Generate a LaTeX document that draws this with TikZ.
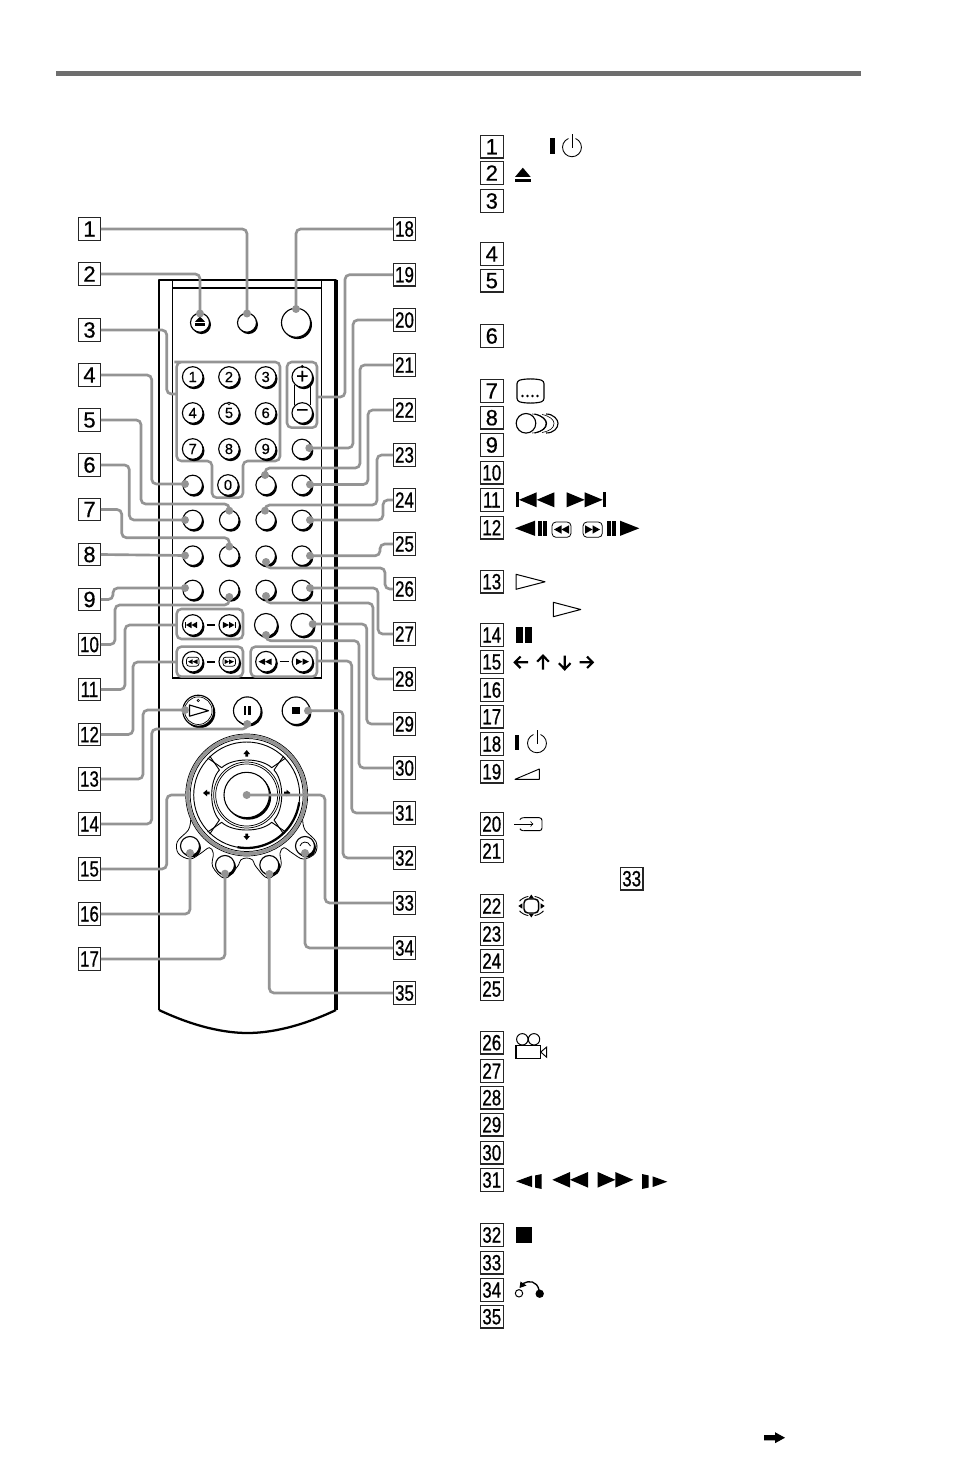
\documentclass[tikz,border=0pt]{standalone}
\usepackage{fontspec}
\usepackage{graphicx}
\setmainfont{Liberation Sans}
\newfontfamily\boxfont[FakeBold=0.6]{Liberation Sans}
\newfontfamily\twofont[FakeBold=0.9]{Liberation Sans}
\newfontfamily\keyfont[FakeBold=0.5]{Liberation Sans}
\definecolor{gr}{HTML}{949494}
\newcommand\one[1]{{\boxfont\fontsize{16.5}{16.5}\selectfont #1}}
\newcommand\two[1]{\scalebox{.77}[1]{\twofont\fontsize{16.5}{16.5}\selectfont #1}}
\newcommand\btn[5]{%
  \fill[black,shift={(1.5,1.9)}] (#2,#3) circle (#4);
  \draw[line width=.85pt,fill=white] (#2,#3) circle (#4);
  \node[keytext] (#1) at (#2,#3) {#5};}
\newcommand\trir[4]{\fill (#1,#3-#4)--(#2,#3)--(#1,#3+#4)--cycle;}
\newcommand\pow[2]{\draw[line width=.65pt] ({#1-3.56},{#2-8.8}) arc[start angle=112,end angle=428,radius=7.1pt];
  \draw[line width=.65pt] (#1,#2-13) -- (#1,#2+.5);}
\tikzset{
  labbox/.style={draw=black!85,line width=.95pt,fill=white,minimum size=17pt,inner sep=0pt,outer sep=0pt},
  conn/.style={draw=gr,line width=2pt,rounded corners=3.5pt},
  grp/.style={draw=gr,line width=1.9pt,rounded corners=3.5pt},
  cdot/.style={circle,fill=gr,minimum size=6pt,inner sep=0pt,outer sep=0pt},
  keytext/.style={inner sep=0pt,font=\keyfont\fontsize{11}{11}\selectfont},
}
\begin{document}
\begin{tikzpicture}[x=.75pt,y=-.75pt]
\useasboundingbox (0,0) rectangle (954,1483);
\fill[white] (0,0) rectangle (954,1483);
% rule
\fill[black!57] (56,71) rectangle (861,76);
% remote body
\draw[line width=1.7pt,line join=round] (159,1010) -- (159,280) -- (336,280) -- (336,1010);
\draw[line width=2.6pt] (336,280) -- (336,1010);
\draw[line width=1.7pt] (159,1010) .. controls (195,1027) and (225,1033) .. (247.5,1033) .. controls (270,1033) and (300,1027) .. (336,1010);
\draw[line width=.85pt] (172.7,280) -- (172.7,678) -- (321.7,678) -- (321.7,280);
\draw[line width=.85pt] (172.7,288) -- (321.7,288);
% groups
\draw[grp] (179,362) -- (280,362) -- (280,461) -- (243,461) -- (243,497.7) -- (212,497.7) -- (212,461) -- (176.7,461) -- (176.7,362) -- cycle;
\draw[grp] (287,362) rectangle (317,427.7);
\node[inner sep=0pt] (gNum) at (176.7,394) {};
\node[inner sep=0pt] (gVol) at (317,397) {};
\draw[grp] (176.7,609) rectangle (243,639);
\draw[grp] (176.7,646.7) rectangle (243,676.7);
\draw[grp] (250.7,646.7) rectangle (317,676.7);
\node[inner sep=0pt] (gSkip) at (176.7,625) {};
\node[inner sep=0pt] (gScan) at (176.7,662) {};
\node[inner sep=0pt] (gSrch) at (317,661) {};
% top buttons
\btn{bEject}{200}{322.7}{9.5}{}
\fill (200,316.5)--(205.2,322)--(194.8,322)--cycle; \fill (194.8,323.5) rectangle (205.2,326);
\btn{bOne}{247}{322.7}{9.5}{}
\btn{bBig}{296}{322.7}{14.5}{}
% number pad
\btn{n1}{192.7}{377}{10.3}{1}
\btn{n2}{229}{377}{10.3}{2}
\btn{n3}{265.7}{377}{10.3}{3}
\btn{n4}{192.7}{413}{10.3}{4}
\btn{n5}{229}{413}{10.3}{5}
\btn{n6}{265.7}{413}{10.3}{6}
\btn{n7}{192.7}{449}{10.3}{7}
\btn{n8}{229}{449}{10.3}{8}
\btn{n9}{265.7}{449}{10.3}{9}
\btn{n0}{228}{485}{10.3}{0}
\draw[line width=.4pt] (229,403.5) circle (1.4);
\draw[line width=.7pt] (294,385) -- (294,405) (310.7,385) -- (310.7,405);
\btn{vPlus}{302.3}{377}{10.3}{\fontsize{16}{16}\selectfont +}
\btn{vMinus}{302.3}{413}{10.3}{\fontsize{16}{16}\selectfont −}
\draw[line width=.4pt] (302.3,366.5) circle (1.3);
\btn{b21}{302}{449}{9.8}{}
\btn{b4}{192.7}{485}{9.8}{}
\btn{b22}{265.7}{485}{9.8}{}
\btn{b23}{302}{485}{9.8}{}
\foreach \yy/\nm in {520/a,555.7/b,590/c}{
  \btn{r\nm1}{192.7}{\yy}{9.8}{}
  \btn{r\nm2}{229.3}{\yy}{9.8}{}
  \btn{r\nm3}{265.7}{\yy}{9.8}{}
  \btn{r\nm4}{302}{\yy}{9.8}{}
}
% skip row
\btn{sPrev}{192.7}{625}{10.3}{}
\btn{sNext}{229.3}{625}{10.3}{}
\fill (184.7,621.8) rectangle (186,628.2); \trir{191.5}{186}{625}{3.2} \trir{197}{191.5}{625}{3.2}
\trir{222.8}{229}{625}{3.2} \trir{229}{234.5}{625}{3.2} \fill (234.5,621.8) rectangle (235.8,628.2);
\draw[line width=.85pt] (206.7,625) -- (215,625);
\btn{b28}{266}{625}{11.5}{}
\btn{b29}{302.5}{625}{11.5}{}
% scan row
\btn{cPrev}{192.7}{661.7}{10.3}{}
\btn{cNext}{229.3}{661.7}{10.3}{}
\draw[line width=.55pt,rounded corners=2pt] (186.5,657.2) rectangle (199,666.2);
\draw[line width=.55pt,rounded corners=2pt] (223,657.2) rectangle (235.5,666.2);
\trir{192.5}{188}{661.7}{2.4} \trir{197.5}{192.5}{661.7}{2.4}
\trir{224.5}{229}{661.7}{2.4} \trir{229}{234}{661.7}{2.4}
\draw[line width=1.2pt] (206.7,661.7) -- (215,661.7);
\btn{fPrev}{266}{661.7}{10.3}{}
\btn{fNext}{302.5}{661.7}{10.3}{}
\trir{265}{258.5}{661.7}{3.2} \trir{271.5}{265}{661.7}{3.2}
\trir{296}{302.5}{661.7}{3.2} \trir{302.5}{309}{661.7}{3.2}
\draw[line width=.7pt] (279.7,661.7) -- (288.5,661.7);
% transport
\btn{bPlay}{198.3}{710.7}{15.5}{}
\draw[line width=.5pt] (198.3,710.7) circle (13.8);
\draw[line width=.5pt] (198.3,700.5) circle (1.2);
\draw[line width=.85pt,line join=round] (189.5,705) -- (208.5,710.7) -- (189.5,716.2) -- cycle;
\btn{bPause}{247.3}{710.7}{13.8}{}
\fill (243.6,706) rectangle (246.3,715); \fill (248.3,706) rectangle (251,715);
\btn{bStop}{296}{710.7}{13.8}{}
\fill (292.3,707) rectangle (299.7,714.4);
% joystick
\draw[draw=gr,line width=2.4pt,fill=white] (246.7,795) circle (58.8);
\draw[line width=.5pt] (246.7,795) circle (61);
\draw[line width=.55pt] (246.7,795) circle (56.5);
\foreach \a in {0,90,180,270}{
  \begin{scope}[shift={(246.7,795)},rotate=\a]
  \draw[line width=.7pt,line join=round] (-39,-37) -- (-25,-27.3) .. controls (-14,-37.6) and (14,-37.6) .. (25,-27.3) -- (39,-37);
  \end{scope}}
\draw[line width=.7pt] (246.7,795) circle (53);
\draw[line width=1.7pt] ({246.7+53*cos(8)},{795+53*sin(8)}) arc[start angle=-8,end angle=-100,radius=39.75pt];
\draw[line width=.55pt] (246.7,795) circle (33);
\draw[line width=.55pt] (246.7,795) circle (31);
\fill (248.2,796.7) circle (23);
\draw[line width=.8pt,fill=white] (246.7,795) circle (22.7);
\node[inner sep=0pt] (bEnter) at (246.7,795) {};
\fill (246.7,750)--(250,754)--(248,754)--(248,756.5)--(245.4,756.5)--(245.4,754)--(243.4,754)--cycle;
\fill (246.7,840)--(250,836)--(248,836)--(248,833.5)--(245.4,833.5)--(245.4,836)--(243.4,836)--cycle;
\fill (203,793)--(207,789.7)--(207,791.7)--(209.5,791.7)--(209.5,794.3)--(207,794.3)--(207,796.3)--cycle;
\fill (290.5,793)--(286.5,789.7)--(286.5,791.7)--(284,791.7)--(284,794.3)--(286.5,794.3)--(286.5,796.3)--cycle;
% contour around lower buttons
\begin{scope}[shift={(170,725)},x=.25pt,y=-.25pt]
\draw[line width=.6pt] plot[smooth,tension=.6] coordinates {(62,285)(55,315)(22,350)(25,385)(60,402)(92,385)(118,368)(130,385)(128,425)(165,460)(202,425)(212,405)(230,399)(248,405)(258,425)(295,460)(332,425)(330,385)(342,368)(368,385)(400,402)(435,385)(438,350)(405,315)(398,285)};
\end{scope}
\btn{b16}{190}{846}{9.5}{}
\btn{b17}{225}{865}{9.5}{}
\btn{b35}{269.3}{865}{9.5}{}
\btn{b34}{305}{846}{9.5}{}
\draw[line width=.6pt] (300,846) .. controls (301,841.5) and (308,840) .. (310.5,846);
% left and right label boxes
\foreach \n/\y in {1/229,2/274,3/330,4/375,5/420,6/465,7/509.5,8/554.5,9/599.5,10/644.5,11/689.5,12/734.5,13/779,14/824,15/869,16/914,17/959}{
  \node[labbox] (L\n) at (89.5,\y) {\ifnum\n<10 \one{\n}\else\two{\n}\fi};}
\foreach \n/\y in {18/229,19/274.7,20/320,21/365,22/410,23/455,24/500,25/544,26/589,27/634,28/679,29/724,30/768,31/813,32/858,33/903,34/948,35/993}{
  \node[labbox] (L\n) at (404.5,\y) {\two{\n}};}
% dots
\foreach \nm/\x/\y in {d1/247/313.5,d2/200/313.5,d4/185/484,d5/229.3/510.7,d6/185/520,d7/229.3/546.5,d8/185/555.5,d9/185/588,d10/229.3/597,d13/185/710,d14/247.3/724,d16/190/853,d17/225/873.7,d18/296/309,d20/309.3/448,d21/265/475,d22/310/484.5,d23/265/510.7,d24/310/520,d25/310/555.7,d26/266/562,d27/310/588,d28/266/596,d29/312.7/624,d30/266/635,d32/308/710.7,d33/246.7/795,d34/305/853,d35/269.3/874}{
  \node[cdot] (\nm) at (\x,\y) {};}
% connectors
\draw[conn] (L1.east) -| (d1.center);
\draw[conn] (L2.east) -| (d2.center);
\draw[conn] (L3.east) -| (166.7,394) -- (gNum.center);
\draw[conn] (L4.east) -| (151.7,484) -- (d4.center);
\draw[conn] (L5.east) -| (141,504) -| (d5.center);
\draw[conn] (L6.east) -| (129.3,520) -- (d6.center);
\draw[conn] (L7.east) -| (121.7,537.7) -| (d7.center);
\draw[conn] (L8.east) -- (d8.center);
\draw[conn] (L9.east) -| (113,588) -- (d9.center);
\draw[conn] (L10.east) -| (115,605) -| (d10.center);
\draw[conn] (L11.east) -| (125,625) -- (gSkip.center);
\draw[conn] (L12.east) -| (133,662) -- (gScan.center);
\draw[conn] (L13.east) -| (143,710) -- (d13.center);
\draw[conn] (L14.east) -| (151.7,729) -| (d14.center);
\draw[conn] (L15.east) -| (166.7,795) -- (186,795);
\draw[conn] (L16.east) -| (d16.center);
\draw[conn] (L17.east) -| (d17.center);
\draw[conn] (L18.west) -| (d18.center);
\draw[conn] (L19.west) -| (345,397) -- (gVol.center);
\draw[conn] (L20.west) -| (353,448) -- (d20.center);
\draw[conn] (L21.west) -| (360,468) -| (d21.center);
\draw[conn] (L22.west) -| (368,484.5) -- (d22.center);
\draw[conn] (L23.west) -| (377,505) -| (d23.center);
\draw[conn] (L24.west) -| (383,520) -- (d24.center);
\draw[conn] (L25.west) -| (380,555.7) -- (d25.center);
\draw[conn] (L26.west) -| (385,568) -| (d26.center);
\draw[conn] (L27.west) -| (378,588) -- (d27.center);
\draw[conn] (L28.west) -| (373,603) -| (d28.center);
\draw[conn] (L29.west) -| (366.7,624) -- (d29.center);
\draw[conn] (L30.west) -| (359,640.7) -| (d30.center);
\draw[conn] (L31.west) -| (351.7,661) -- (gSrch.center);
\draw[conn] (L32.west) -| (343,710.7) -- (d32.center);
\draw[conn] (L33.west) -| (325,795) -- (d33.center);
\draw[conn] (L34.west) -| (d34.center);
\draw[conn] (L35.west) -| (d35.center);
% list boxes
\foreach \n/\y in {1/146.7,2/173,3/201,4/254,5/280.7,6/336,7/391,8/417.7,9/445,10/472.7,11/500,12/527.7,13/581.7,14/635,15/662,16/690,17/716.7,18/744,19/771.7,20/824,21/851,22/906,23/934,24/961,25/989,26/1042.7,27/1071,28/1097.7,29/1124.7,30/1152.7,31/1180,32/1235,33/1262.7,34/1290,35/1316.7}{
  \node[labbox] (K\n) at (491.8,\y) {\ifnum\n<10 \one{\n}\else\two{\n}\fi};}
\node[labbox] (Kref) at (631.7,878.7) {\two{33}};
% list icons
\fill (550,138.5) rectangle (555,154.5); \pow{572}{147.3}
\fill (522.8,167.7)--(530.7,177)--(515,177)--cycle; \fill (515,179) rectangle (530.7,181.7);
% 7 subtitle
\draw[line width=.85pt,rounded corners=2pt] (517,381) .. controls (525,378.5) and (536,378.5) .. (544,381) -- (544,401) .. controls (536,403.5) and (525,403.5) .. (517,401) -- cycle;
\foreach \x in {522.5,527.5,532.5,537.5} \fill (\x,396) circle (1.3);
% 8 audio
\draw[line width=.85pt] (526,423.3) circle (9.8);
\draw[line width=.45pt] (532,414) .. controls (541,414) and (546,420) .. (546,423.3) .. controls (546,428) and (541,433) .. (532,433);
\draw[line width=.85pt] (534.5,414) .. controls (543,416) and (546.5,420) .. (546.5,423.3) .. controls (546.5,428) and (543,431) .. (534.5,433);
\draw[line width=.45pt] (542,414.5) .. controls (550,416) and (554,420) .. (554,423.3) .. controls (554,428) and (550,431) .. (542,432.5);
\draw[line width=.85pt] (546,414) .. controls (554,414) and (558,420) .. (558,423.3) .. controls (558,428) and (554,433) .. (546,433);
% 11
\fill (515.7,492.3) rectangle (519,507.3); \trir{536.7}{519}{499.8}{7.5} \trir{554.3}{536.7}{499.8}{7.5}
\trir{566.7}{584.7}{499.8}{7.5} \trir{584.7}{602.7}{499.8}{7.5} \fill (602.7,492.3) rectangle (606,507.3);
% 12
\trir{535}{515}{528.3}{7.6} \fill (537.7,520.7) rectangle (541.7,536); \fill (543.3,520.7) rectangle (547.3,536);
\draw[line width=.6pt,rounded corners=3pt] (552,522) rectangle (571,537.3);
\trir{561.5}{554}{529.5}{4.2} \trir{569}{561.5}{529.5}{4.2}
\draw[line width=.6pt,rounded corners=3pt] (583,522) rectangle (602.3,537.3);
\trir{585}{592.5}{529.5}{4.2} \trir{592.5}{600}{529.5}{4.2}
\fill (606.7,520.7) rectangle (610.7,536); \fill (612.3,520.7) rectangle (616.3,536); \trir{620}{639.3}{528.3}{7.6}
% 13
\draw[line width=.75pt,line join=round] (516,574.3) -- (545,581.8) -- (516,589.3) -- cycle;
\draw[line width=.75pt,line join=round] (553.3,602.3) -- (580.7,609.5) -- (553.3,616.7) -- cycle;
% 14
\fill (515.7,627.3) rectangle (522.7,642.7); \fill (525,627.3) rectangle (532.3,642.7);
% 15
\begin{scope}[line width=1.6pt]
\draw (514.5,662.3) -- (528,662.3) (520.5,656.5) -- (514.8,662.3) -- (520.5,668);
\draw (543,669.5) -- (543,656) (537.2,661.7) -- (543,655.6) -- (548.8,661.7);
\draw (564.7,655.5) -- (564.7,669) (558.9,663.2) -- (564.7,669.3) -- (570.5,663.2);
\draw (579.5,662.3) -- (593,662.3) (587,656.5) -- (592.7,662.3) -- (587,668);
\end{scope}
% 18
\fill (515,734.5) rectangle (519.3,749.5); \pow{537}{743.3}
% 19
\draw[line width=.7pt,line join=round] (515,779.3) -- (539.3,769) -- (539.3,779.3) -- cycle;
% 20
\draw[line width=.6pt,->,>=to] (514.3,824) -- (533.3,824);
\draw[line width=.7pt,rounded corners=2pt] (523.3,817.7) -- (542,817.7) -- (542,830.7) -- (523.3,830.7);
\draw[line width=.7pt] (523.3,817.7) arc[start angle=90,end angle=150,radius=3pt];
\draw[line width=.7pt] (523.3,830.7) arc[start angle=270,end angle=210,radius=3pt];
% 22
\draw[line width=1.1pt,rounded corners=3pt] (524,899) rectangle (538.7,913);
\draw[line width=.65pt,rounded corners=4pt] (520.5,900) -- (523,897) -- (528,896.5) (534.7,896.5) -- (540,897) -- (542.5,900) (542.5,912) -- (540,915) -- (534.7,915.5) (528,915.5) -- (523,915) -- (520.5,912);
\fill (531.3,894.5)--(534,898.5)--(528.6,898.5)--cycle;
\fill (531.3,917.5)--(534,913.5)--(528.6,913.5)--cycle;
\fill (518.3,906)--(522.3,903.3)--(522.3,908.7)--cycle;
\fill (544.7,906)--(540.7,903.3)--(540.7,908.7)--cycle;
% 26
\draw[line width=.75pt] (522.3,1039.3) circle (5.7); \draw[line width=.75pt] (534,1039.3) circle (5.7);
\draw[line width=.95pt,fill=white] (516,1045.7) rectangle (540.7,1058.3);
\draw[line width=.7pt] (540.7,1052)--(546.7,1047)--(546.7,1057.3)--cycle;
% 31
\trir{532}{516}{1181.3}{5.8} \fill (535,1175.5)--(541.7,1174)--(541.7,1189)--(535,1187.5)--cycle;
\trir{570}{552.3}{1179.8}{7.8} \trir{588}{570}{1179.8}{7.8}
\trir{597.7}{615.3}{1179.8}{7.8} \trir{615.3}{633.3}{1179.8}{7.8}
\fill (642,1174)--(648.7,1175.5)--(648.7,1187.5)--(642,1189)--cycle; \trir{652.7}{667.3}{1181.7}{5.3}
% 32
\fill (515.7,1226.7) rectangle (532,1242.7);
% 34
\draw[line width=.75pt] (519,1293.3) circle (3.7);
\fill (539.7,1293.7) circle (4.2);
\draw[line width=1pt] (539,1290) .. controls (537,1281) and (529,1280) .. (523,1283.5);
\fill (519.5,1288)--(520.5,1281.5)--(526.5,1285.5)--cycle;
% bottom arrow
\node[inner sep=0pt] (arrTail) at (764,1437.7) {};
\fill (arrTail.center) ++(0,-2.6) -- ++(11,0) -- ++(0,-2.9) -- ++(10,5.5) -- ++(-10,5.5) -- ++(0,-2.9) -- ++(-11,0) -- cycle;
\end{tikzpicture}
\end{document}
